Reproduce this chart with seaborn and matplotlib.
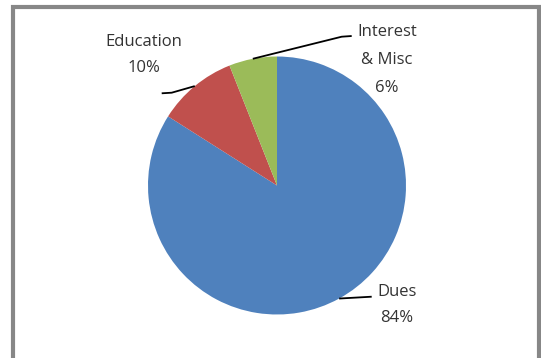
import numpy as np
import matplotlib
matplotlib.use("Agg")
import matplotlib.pyplot as plt
import seaborn as sns
from matplotlib.patches import Rectangle

sns.set_style("white")
plt.rcParams['font.family'] = ['Open Sans', 'DejaVu Sans']

categories = ["Dues", "Education", "Interest\n& Misc"]
values = [84, 10, 6]
colors = ["#4F81BD", "#C0504D", "#9BBB59"]

W, H = 541, 358
cx, cy, R = 277, 185.5, 129.0  # pie centre / radius in pixels (layout)

fig = plt.figure(figsize=(W / 100, H / 100), dpi=100)
fig.patch.set_facecolor("white")
ax = fig.add_axes([0, 0, 1, 1])

wedges, _ = ax.pie(values, colors=colors, startangle=90, counterclock=False,
                   radius=1.0, wedgeprops=dict(linewidth=0))

def px(x, y):
    return ((x - cx) / R, (cy - y) / R)

ax.set_xlim(px(0, 0)[0], px(W, 0)[0])
ax.set_ylim(px(0, H)[1], px(0, 0)[1])
ax.set_aspect("auto")
ax.axis("off")

# label layout (pixel positions of text centre, leader elbow and end)
label_pos = [(397, 305), (144, 55), (387, 60.5)]
leader_pts = [[(371.7, 296.7)],
              [(171.7, 92.7), (161.7, 93.3)],
              [(341.7, 36.7), (351.7, 36.0)]]
linesp = [1.75, 1.8, 2.0]

for w, cat, v, lp, lpts, ls in zip(wedges, categories, values, label_pos, leader_pts, linesp):
    ang = np.deg2rad((w.theta1 + w.theta2) / 2)
    xs = [np.cos(ang)] + [px(*p)[0] for p in lpts]
    ys = [np.sin(ang)] + [px(*p)[1] for p in lpts]
    ax.plot(xs, ys, color="black", lw=1.3, solid_capstyle="butt")
    tx, ty = px(*lp)
    ax.text(tx, ty, f"{cat}\n{v}%", ha="center", va="center", fontsize=12,
            color="#333333", linespacing=ls)

# chart border
fig.patches.append(Rectangle((13 / W, -0.05), (539 - 13) / W, 1.05 - 7 / H,
                             transform=fig.transFigure, fill=False,
                             edgecolor="#878787", linewidth=3.0))

fig.savefig("out.png", dpi=100)
